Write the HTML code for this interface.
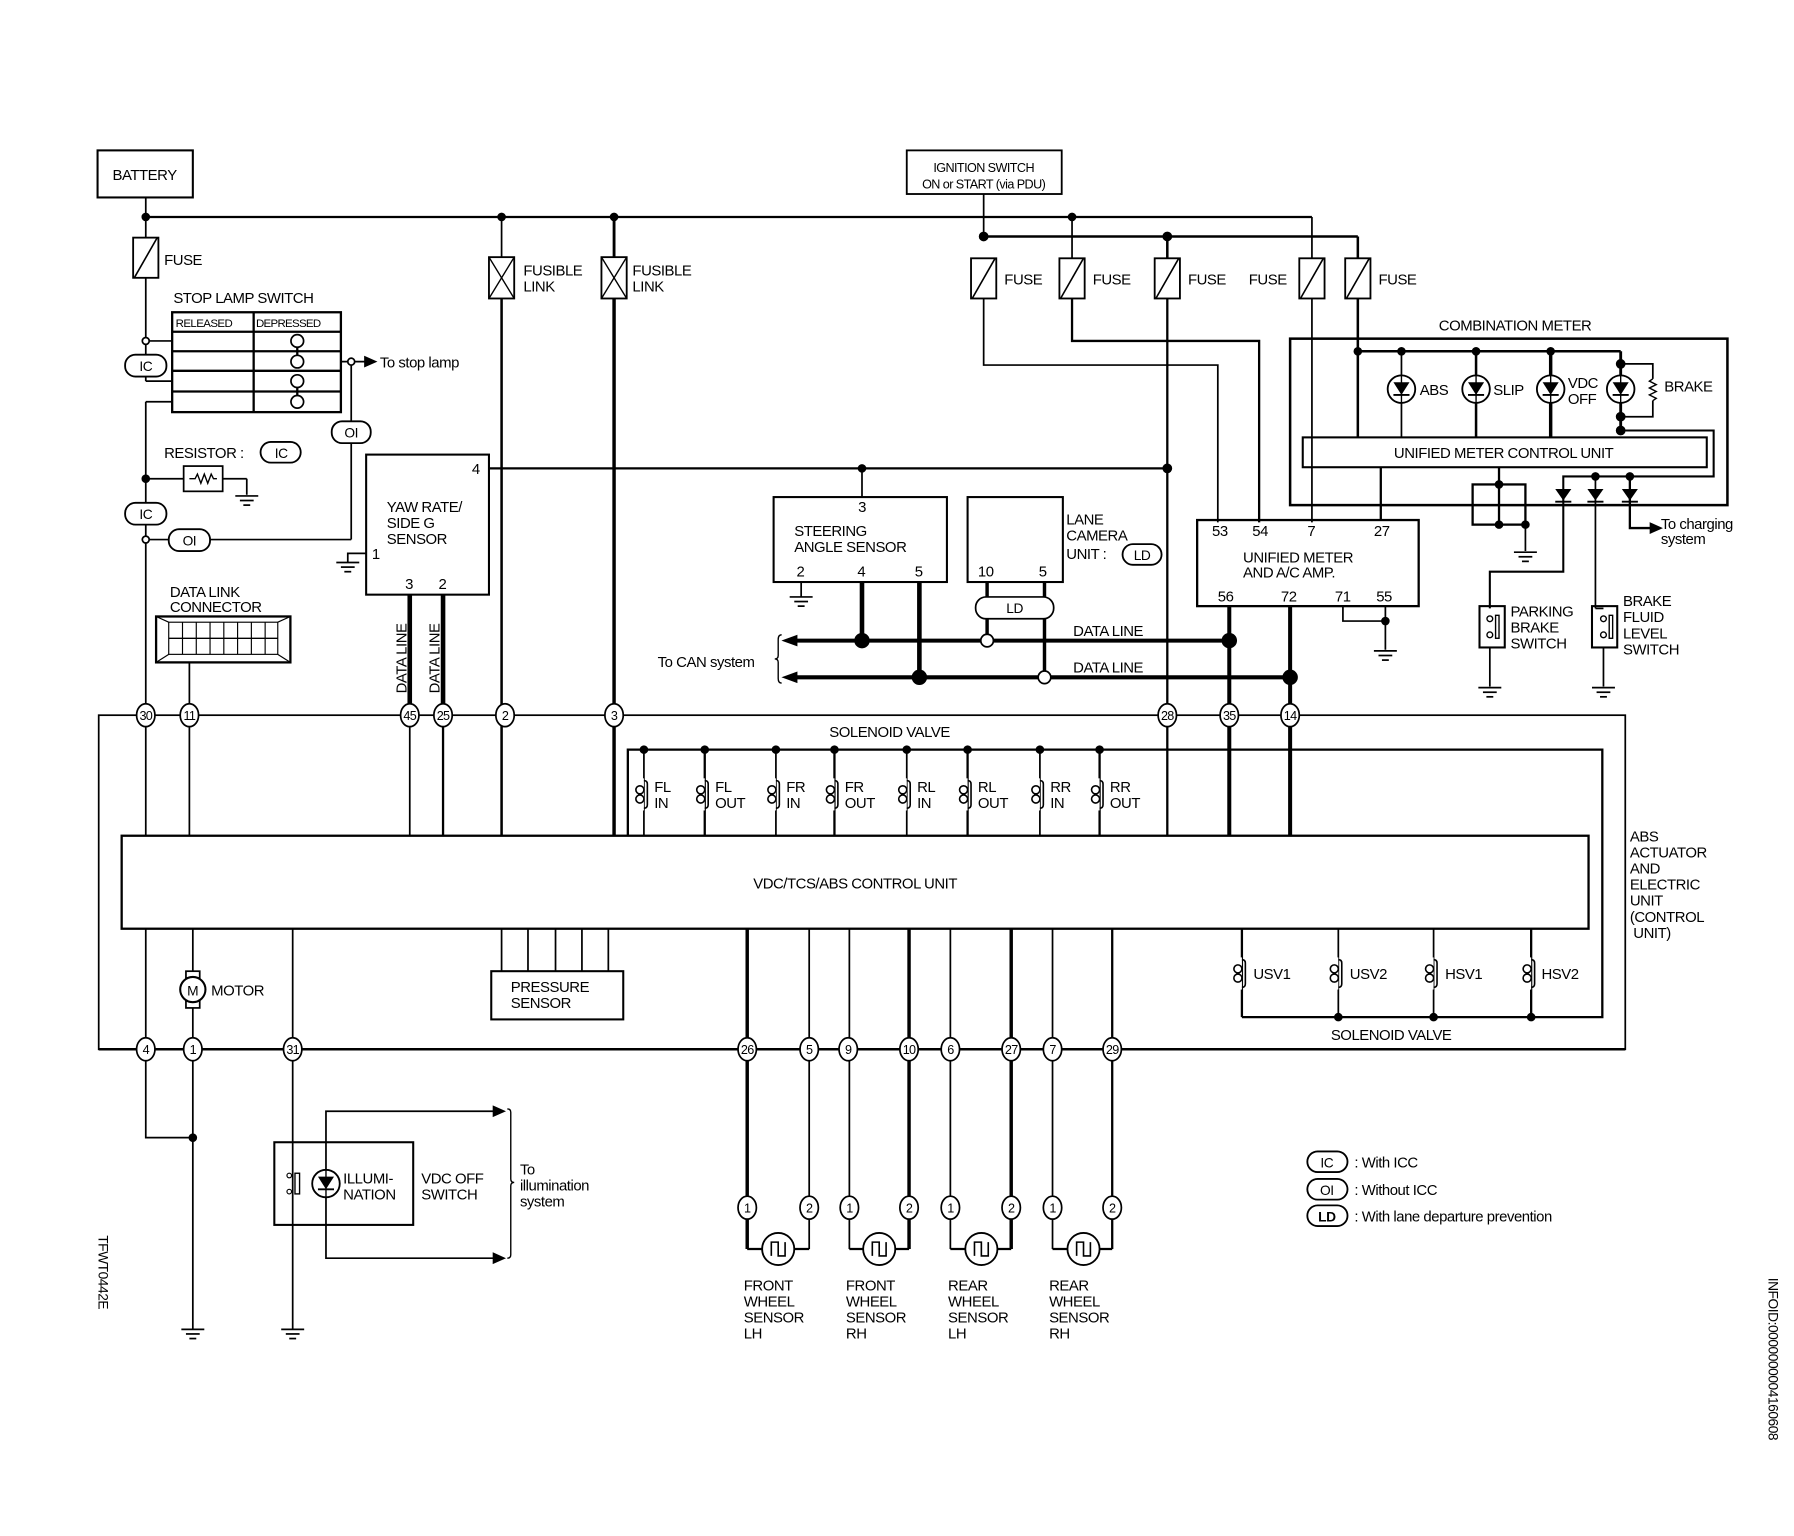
<!DOCTYPE html>
<html><head><meta charset="utf-8"><style>
html,body{margin:0;padding:0;background:#fff;}
svg{display:block;}
text{font-family:"Liberation Sans",Arial,sans-serif;font-size:13px;fill:#000;letter-spacing:-0.4px;}
.c{font-size:11px;text-anchor:middle;letter-spacing:-0.6px;}
</style></head><body>
<svg width="1794" height="1536" viewBox="0 0 1563 1338" preserveAspectRatio="none" xmlns="http://www.w3.org/2000/svg">
<defs>
<g id="gnd"><line x1="-10" y1="0" x2="10" y2="0" stroke="#000" stroke-width="1.5"/><line x1="-6" y1="4" x2="6" y2="4" stroke="#000" stroke-width="1.5"/><line x1="-3" y1="8" x2="3" y2="8" stroke="#000" stroke-width="1.5"/></g>
<g id="fuse"><rect x="-11" y="0" width="22" height="35" fill="#fff" stroke="#000" stroke-width="1.6"/><line x1="-10" y1="35" x2="10" y2="0" stroke="#000" stroke-width="1.4"/></g>
<g id="flink"><rect x="-11" y="0" width="22" height="36" fill="#fff" stroke="#000" stroke-width="1.6"/><line x1="-11" y1="0" x2="11" y2="36" stroke="#000" stroke-width="1.2"/><line x1="11" y1="0" x2="-11" y2="36" stroke="#000" stroke-width="1.2"/></g>
<g id="coil"><rect x="-8" y="-14" width="8" height="28" fill="#fff" stroke="none"/><circle cx="-3.5" cy="-4" r="3.5" fill="none" stroke="#000" stroke-width="1.4"/><circle cx="-3.5" cy="4" r="3.5" fill="none" stroke="#000" stroke-width="1.4"/><path d="M0,-12 q3,0 3,3 v18 q0,3 -3,3" fill="none" stroke="#000" stroke-width="1.4"/></g>
<g id="lamp"><circle r="12" fill="#fff" stroke="#000" stroke-width="1.6"/><path d="M-7,-6 L7,-6 L0,5 Z" fill="#000"/><line x1="-7" y1="5" x2="7" y2="5" stroke="#000" stroke-width="1.6"/><line x1="0" y1="-12" x2="0" y2="12" stroke="#000" stroke-width="1.2"/></g>
<g id="diode"><path d="M-7,-5 L7,-5 L0,5 Z" fill="#000"/><line x1="-7" y1="6" x2="7" y2="6" stroke="#000" stroke-width="1.6"/></g>
<g id="ws"><circle r="14" fill="#fff" stroke="#000" stroke-width="1.6"/><path d="M-6,6 V-6 H0 V6 H6 V-6" fill="none" stroke="#000" stroke-width="1.4"/></g>
</defs>

<g stroke="#000" fill="none" stroke-width="1.5">
<rect x="85" y="131" width="83" height="41" stroke-width="1.8"/>
<line x1="127" y1="172" x2="127" y2="207"/>
<line x1="127" y1="189" x2="1143" y2="189" stroke-width="2"/>
<line x1="857" y1="169" x2="857" y2="206"/>
<line x1="857" y1="206" x2="1183" y2="206" stroke-width="2.2"/>
<line x1="1143" y1="189" x2="1143" y2="225"/>
<line x1="1183" y1="206" x2="1183" y2="225" stroke-width="2.2"/>
<line x1="934" y1="189" x2="934" y2="225"/>
<line x1="1017" y1="206" x2="1017" y2="225" stroke-width="2.2"/>
<line x1="437" y1="189" x2="437" y2="224"/>
<line x1="535" y1="189" x2="535" y2="224" stroke-width="2.5"/>
<line x1="127" y1="241" x2="127" y2="297"/>
<line x1="127" y1="297" x2="150" y2="297"/>
<line x1="127" y1="297" x2="127" y2="332"/>
<line x1="127" y1="332" x2="150" y2="332"/>
<line x1="150" y1="350" x2="127" y2="350"/>
<line x1="127" y1="350" x2="127" y2="728"/>
<rect x="150" y="272" width="147" height="87" stroke-width="2"/>
<line x1="150" y1="289" x2="297" y2="289" stroke-width="2"/>
<line x1="150" y1="306" x2="297" y2="306" stroke-width="2"/>
<line x1="150" y1="323" x2="297" y2="323" stroke-width="2"/>
<line x1="150" y1="341" x2="297" y2="341" stroke-width="2"/>
<line x1="221" y1="272" x2="221" y2="359" stroke-width="2"/>
<line x1="259" y1="302" x2="259" y2="310" stroke-width="2"/>
<line x1="259" y1="337" x2="259" y2="345" stroke-width="2"/>
<circle cx="259" cy="297" r="5.5" fill="#fff"/><circle cx="259" cy="315" r="5.5" fill="#fff"/><circle cx="259" cy="332" r="5.5" fill="#fff"/><circle cx="259" cy="350" r="5.5" fill="#fff"/>
<line x1="297" y1="315" x2="320" y2="315"/>
<path d="M318,311 L327,315 L318,319 Z" fill="#000"/>
<line x1="306" y1="315" x2="306" y2="470"/>
<line x1="306" y1="470" x2="127" y2="470"/>
<circle cx="306" cy="315" r="3" fill="#fff"/>
<line x1="127" y1="417" x2="160" y2="417"/>
<rect x="160" y="406" width="34" height="22"/>
<path d="M165,417 h5 l2,-4 l3,8 l3,-8 l3,8 l3,-8 l2,4 h3" stroke-width="1.2"/>
<line x1="194" y1="417" x2="215" y2="417"/><line x1="215" y1="417" x2="215" y2="431"/>
<circle cx="127" cy="417" r="3" fill="#000"/>
<circle cx="127" cy="297" r="3" fill="#fff"/>
<circle cx="127" cy="470" r="3" fill="#fff"/>
<circle cx="127" cy="189" r="3" fill="#000"/><circle cx="437" cy="189" r="3" fill="#000"/><circle cx="535" cy="189" r="3" fill="#000"/><circle cx="934" cy="189" r="3" fill="#000"/>
<circle cx="857" cy="206" r="3.5" fill="#000"/><circle cx="1017" cy="206" r="3.5" fill="#000"/>
<polyline points="857,260 857,318 1061,318 1061,455"/>
<polyline points="934,260 934,297 1097,297 1097,455" stroke-width="2"/>
<line x1="1017" y1="260" x2="1017" y2="728" stroke-width="2"/>
<line x1="1143" y1="260" x2="1143" y2="455"/>
<line x1="1183" y1="260" x2="1183" y2="381" stroke-width="2.2"/>
<rect x="319" y="396" width="107" height="122" stroke-width="1.8"/>
<line x1="426" y1="408" x2="1017" y2="408" stroke-width="2"/>
<circle cx="751" cy="408" r="3" fill="#000"/><circle cx="1017" cy="408" r="3.5" fill="#000"/>
<polyline points="319,482 303,482 303,490"/>
<line x1="751" y1="408" x2="751" y2="433"/>
<line x1="357" y1="518" x2="357" y2="614" stroke-width="4"/>
<line x1="386" y1="518" x2="386" y2="614" stroke-width="4"/>
<line x1="357" y1="632" x2="357" y2="728"/>
<line x1="386" y1="632" x2="386" y2="728" stroke-width="2"/>
<line x1="437" y1="260" x2="437" y2="728" stroke-width="2.2"/>
<line x1="535" y1="260" x2="535" y2="728" stroke-width="3"/>
<rect x="136" y="537" width="117" height="40" stroke-width="2"/>
<rect x="147" y="542" width="95" height="28" stroke-width="1"/>
<line x1="136" y1="537" x2="147" y2="542" stroke-width="1"/><line x1="253" y1="537" x2="242" y2="542" stroke-width="1"/>
<line x1="136" y1="577" x2="147" y2="570" stroke-width="1"/><line x1="253" y1="577" x2="242" y2="570" stroke-width="1"/>
<line x1="147" y1="556" x2="242" y2="556" stroke-width="1.2"/>
<path d="M159,542 v28 M171,542 v28 M183,542 v28 M195,542 v28 M207,542 v28 M219,542 v28 M231,542 v28" stroke-width="1"/>
<line x1="165" y1="577" x2="165" y2="728"/>
<rect x="674" y="433" width="151" height="74" stroke-width="1.8"/>
<line x1="698" y1="507" x2="698" y2="520"/>
<line x1="751" y1="507" x2="751" y2="558" stroke-width="4"/>
<line x1="801" y1="507" x2="801" y2="590" stroke-width="4"/>
<rect x="843" y="433" width="83" height="74" stroke-width="1.8"/>
<line x1="860" y1="507" x2="860" y2="553" stroke-width="3"/>
<line x1="910" y1="507" x2="910" y2="585" stroke-width="3"/>
<rect x="850" y="520" width="68" height="19" rx="9" fill="#fff"/>
<line x1="690" y1="558" x2="1071" y2="558" stroke-width="3.5"/>
<line x1="690" y1="590" x2="1124" y2="590" stroke-width="3.5"/>
<path d="M683,558 L694,554 L694,562 Z" fill="#000"/>
<path d="M683,590 L694,586 L694,594 Z" fill="#000"/>
<path d="M681,553 q-3,0 -3,4 v14 q0,3 -3,3 q3,0 3,3 v14 q0,4 3,4" stroke-width="1.2"/>
<circle cx="751" cy="558" r="6" fill="#000"/><circle cx="801" cy="590" r="6" fill="#000"/>
<circle cx="860" cy="558" r="5.5" fill="#fff"/><circle cx="910" cy="590" r="5.5" fill="#fff"/>
<circle cx="1071" cy="558" r="6" fill="#000"/><circle cx="1124" cy="590" r="6" fill="#000"/>
<rect x="1043" y="453" width="193" height="75" stroke-width="2"/>
<line x1="1071" y1="528" x2="1071" y2="728" stroke-width="3.5"/>
<line x1="1124" y1="528" x2="1124" y2="728" stroke-width="3.5"/>
<polyline points="1170,528 1170,541 1207,541"/>
<line x1="1207" y1="528" x2="1207" y2="566"/>
<circle cx="1207" cy="541" r="3" fill="#000"/>
<line x1="1203" y1="407" x2="1203" y2="453" stroke-width="2"/>
<rect x="1124" y="295" width="381" height="145" stroke-width="2.2"/>
<line x1="1183" y1="306" x2="1412" y2="306" stroke-width="2.2"/>
<line x1="1221" y1="306" x2="1221" y2="381"/>
<line x1="1286" y1="306" x2="1286" y2="381" stroke-width="2.2"/>
<line x1="1351" y1="306" x2="1351" y2="381" stroke-width="3"/>
<line x1="1412" y1="306" x2="1412" y2="375" stroke-width="2.5"/>
<polyline points="1412,317 1440,317 1440,330"/>
<path d="M1440,330 l-3,2 l6,3 l-6,3 l6,3 l-6,3 l6,3 l-3,2" stroke-width="1.2"/>
<polyline points="1440,349 1440,363 1412,363"/>
<polyline points="1412,375 1493,375 1493,415 1362,415 1362,498 1298,498 1298,530" stroke-width="1.8"/>
<rect x="1135" y="381" width="352" height="26" stroke-width="1.8"/>
<line x1="1306" y1="407" x2="1306" y2="457" stroke-width="2"/>
<rect x="1283" y="422" width="46" height="35" stroke-width="2"/>
<line x1="1329" y1="457" x2="1329" y2="480"/>
<line x1="1390" y1="415" x2="1390" y2="530"/>
<polyline points="1420,415 1420,460 1440,460" stroke-width="2"/>
<path d="M1438,456 L1447,460 L1438,464 Z" fill="#000"/>
<circle cx="1183" cy="306" r="3" fill="#000"/><circle cx="1221" cy="306" r="3" fill="#000"/><circle cx="1286" cy="306" r="3" fill="#000"/><circle cx="1351" cy="306" r="3" fill="#000"/>
<circle cx="1412" cy="317" r="3.5" fill="#000"/><circle cx="1412" cy="363" r="3.5" fill="#000"/><circle cx="1412" cy="375" r="3.5" fill="#000"/>
<circle cx="1390" cy="415" r="3" fill="#000"/><circle cx="1420" cy="415" r="3" fill="#000"/>
<circle cx="1306" cy="422" r="3" fill="#000"/><circle cx="1306" cy="457" r="3" fill="#000"/><circle cx="1329" cy="457" r="3" fill="#000"/>
<rect x="1289" y="528" width="22" height="36" stroke-width="1.8"/>
<rect x="1387" y="528" width="22" height="36" stroke-width="1.8"/>
<line x1="1298" y1="564" x2="1298" y2="598"/>
<line x1="1397" y1="564" x2="1397" y2="598"/>
<line x1="1390" y1="530" x2="1397" y2="530"/>
<rect x="86" y="623" width="1330" height="291" stroke-width="1.5"/>
<line x1="86" y1="914" x2="1416" y2="914" stroke-width="2.2"/>
<polyline points="547,728 547,653 1396,653 1396,886 1082,886" stroke-width="2"/>
<line x1="561" y1="653" x2="561" y2="728"/><line x1="614" y1="653" x2="614" y2="728" stroke-width="2"/>
<line x1="676" y1="653" x2="676" y2="728"/><line x1="727" y1="653" x2="727" y2="728" stroke-width="2"/>
<line x1="790" y1="653" x2="790" y2="728"/><line x1="843" y1="653" x2="843" y2="728" stroke-width="2"/>
<line x1="906" y1="653" x2="906" y2="728"/><line x1="958" y1="653" x2="958" y2="728" stroke-width="2"/>
<circle cx="561" cy="653" r="3" fill="#000"/><circle cx="614" cy="653" r="3" fill="#000"/><circle cx="676" cy="653" r="3" fill="#000"/><circle cx="727" cy="653" r="3" fill="#000"/>
<circle cx="790" cy="653" r="3" fill="#000"/><circle cx="843" cy="653" r="3" fill="#000"/><circle cx="906" cy="653" r="3" fill="#000"/><circle cx="958" cy="653" r="3" fill="#000"/>
<rect x="106" y="728" width="1278" height="81" stroke-width="2"/>
<polyline points="127,809 127,991 168,991"/>
<line x1="168" y1="809" x2="168" y2="1158"/>
<line x1="255" y1="809" x2="255" y2="1158"/>
<circle cx="168" cy="991" r="3" fill="#000"/>
<rect x="162" y="846" width="12" height="6" fill="#fff"/><rect x="162" y="872" width="12" height="6" fill="#fff"/>
<circle cx="168" cy="862" r="11" fill="#fff" stroke-width="1.8"/>
<rect x="428" y="846" width="115" height="42" stroke-width="1.8"/>
<path d="M437,809 v37 M460,809 v37 M484,809 v37 M507,809 v37 M530,809 v37"/>
<line x1="651" y1="809" x2="651" y2="1088" stroke-width="3"/>
<line x1="705" y1="809" x2="705" y2="1088"/>
<line x1="740" y1="809" x2="740" y2="1088"/>
<line x1="792" y1="809" x2="792" y2="1088" stroke-width="3"/>
<line x1="828" y1="809" x2="828" y2="1088"/>
<line x1="881" y1="809" x2="881" y2="1088" stroke-width="3"/>
<line x1="917" y1="809" x2="917" y2="1088"/>
<line x1="969" y1="809" x2="969" y2="1088" stroke-width="2"/>
<path d="M651,1088 h13 M705,1088 h-13 M740,1088 h13 M792,1088 h-13 M828,1088 h13 M881,1088 h-13 M917,1088 h13 M969,1088 h-13" stroke-width="2"/>
<line x1="1082" y1="809" x2="1082" y2="886" stroke-width="2"/>
<line x1="1166" y1="809" x2="1166" y2="886"/>
<line x1="1249" y1="809" x2="1249" y2="886"/>
<line x1="1334" y1="809" x2="1334" y2="886" stroke-width="2"/>
<circle cx="1166" cy="886" r="3" fill="#000"/><circle cx="1249" cy="886" r="3" fill="#000"/><circle cx="1334" cy="886" r="3" fill="#000"/>
<rect x="239" y="995" width="121" height="72" stroke-width="1.8"/>
<polyline points="430,968 284,968 284,1096 430,1096"/>
<path d="M430,964 L439,968 L430,972 Z M430,1092 L439,1096 L430,1100 Z" fill="#000"/>
<path d="M442,966 q3,0 3,3 v58 q0,3 3,3 q-3,0 -3,3 v60 q0,3 -3,3" stroke-width="1.2"/>
<rect x="257" y="1022" width="4" height="18" stroke-width="1.2"/>
<circle cx="252" cy="1024" r="2" stroke-width="1"/><circle cx="252" cy="1038" r="2" stroke-width="1"/>
</g>

<use href="#fuse" x="127" y="207"/>
<use href="#flink" x="437" y="224"/><use href="#flink" x="535" y="224"/>
<use href="#fuse" x="857" y="225"/><use href="#fuse" x="934" y="225"/><use href="#fuse" x="1017" y="225"/><use href="#fuse" x="1143" y="225"/><use href="#fuse" x="1183" y="225"/>
<use href="#gnd" x="215" y="432"/><use href="#gnd" x="303" y="490"/><use href="#gnd" x="698" y="520"/><use href="#gnd" x="1207" y="567"/>
<use href="#gnd" x="1329" y="481"/><use href="#gnd" x="1298" y="599"/><use href="#gnd" x="1397" y="599"/>
<use href="#gnd" x="168" y="1158"/><use href="#gnd" x="255" y="1158"/>
<use href="#lamp" x="1221" y="339"/><use href="#lamp" x="1286" y="339"/><use href="#lamp" x="1351" y="339"/><use href="#lamp" x="1412" y="339"/>
<use href="#diode" x="1362" y="431"/><use href="#diode" x="1390" y="431"/><use href="#diode" x="1420" y="431"/>
<use href="#lamp" x="284" y="1031"/>
<use href="#coil" x="561" y="692"/><use href="#coil" x="614" y="692"/><use href="#coil" x="676" y="692"/><use href="#coil" x="727" y="692"/>
<use href="#coil" x="790" y="692"/><use href="#coil" x="843" y="692"/><use href="#coil" x="906" y="692"/><use href="#coil" x="958" y="692"/>
<use href="#coil" x="1082" y="848"/><use href="#coil" x="1166" y="848"/><use href="#coil" x="1249" y="848"/><use href="#coil" x="1334" y="848"/>
<use href="#ws" x="678" y="1088"/><use href="#ws" x="766" y="1088"/><use href="#ws" x="855" y="1088"/><use href="#ws" x="944" y="1088"/>
<g stroke="#000" stroke-width="1.2"><circle cx="1298" cy="539" r="2.5" fill="#fff"/><circle cx="1298" cy="553" r="2.5" fill="#fff"/><rect x="1303" y="536" width="3" height="20" fill="none"/>
<circle cx="1397" cy="539" r="2.5" fill="#fff"/><circle cx="1397" cy="553" r="2.5" fill="#fff"/><rect x="1402" y="536" width="3" height="20" fill="none"/></g>

<g stroke="#000" stroke-width="1.6" fill="#fff">
<rect x="109" y="309" width="36" height="19" rx="9"/>
<rect x="289" y="367" width="34" height="19" rx="9"/>
<rect x="227" y="385" width="35" height="18" rx="9"/>
<rect x="109" y="438" width="36" height="19" rx="9"/>
<rect x="147" y="461" width="36" height="19" rx="9"/>
<rect x="978" y="474" width="34" height="18" rx="9"/>
<rect x="1139" y="1003" width="35" height="18" rx="9"/>
<rect x="1139" y="1027" width="35" height="18" rx="9"/>
<rect x="1139" y="1050" width="35" height="18" rx="9"/>
</g>
<g>
<text x="127" y="323" style="text-anchor:middle;font-size:12px">IC</text>
<text x="306" y="381" style="text-anchor:middle;font-size:12px">OI</text>
<text x="245" y="399" style="text-anchor:middle;font-size:12px">IC</text>
<text x="127" y="452" style="text-anchor:middle;font-size:12px">IC</text>
<text x="165" y="475" style="text-anchor:middle;font-size:12px">OI</text>
<text x="995" y="488" style="text-anchor:middle;font-size:12px">LD</text>
<text x="884" y="534" style="text-anchor:middle;font-size:12px">LD</text>
<text x="1156" y="1017" style="text-anchor:middle;font-size:12px">IC</text>
<text x="1156" y="1041" style="text-anchor:middle;font-size:12px">OI</text>
<text x="1156" y="1064" style="text-anchor:middle;font-size:12px;font-weight:bold">LD</text>
</g>

<g stroke="#000" stroke-width="1.5" fill="#fff">
<ellipse cx="127" cy="623" rx="8" ry="10"/><ellipse cx="165" cy="623" rx="8" ry="10"/><ellipse cx="357" cy="623" rx="8" ry="10"/><ellipse cx="386" cy="623" rx="8" ry="10"/>
<ellipse cx="440" cy="623" rx="8" ry="10"/><ellipse cx="535" cy="623" rx="8" ry="10"/><ellipse cx="1017" cy="623" rx="8" ry="10"/><ellipse cx="1071" cy="623" rx="8" ry="10"/><ellipse cx="1124" cy="623" rx="8" ry="10"/>
<ellipse cx="127" cy="914" rx="8" ry="10"/><ellipse cx="168" cy="914" rx="8" ry="10"/><ellipse cx="255" cy="914" rx="8" ry="10"/>
<ellipse cx="651" cy="914" rx="8" ry="10"/><ellipse cx="705" cy="914" rx="8" ry="10"/><ellipse cx="739" cy="914" rx="8" ry="10"/><ellipse cx="792" cy="914" rx="8" ry="10"/>
<ellipse cx="828" cy="914" rx="8" ry="10"/><ellipse cx="881" cy="914" rx="8" ry="10"/><ellipse cx="917" cy="914" rx="8" ry="10"/><ellipse cx="969" cy="914" rx="8" ry="10"/>
<ellipse cx="651" cy="1052" rx="8" ry="10"/><ellipse cx="705" cy="1052" rx="8" ry="10"/><ellipse cx="740" cy="1052" rx="8" ry="10"/><ellipse cx="792" cy="1052" rx="8" ry="10"/>
<ellipse cx="828" cy="1052" rx="8" ry="10"/><ellipse cx="881" cy="1052" rx="8" ry="10"/><ellipse cx="917" cy="1052" rx="8" ry="10"/><ellipse cx="969" cy="1052" rx="8" ry="10"/>
</g>
<g>
<text class="c" x="127" y="627">30</text><text class="c" x="165" y="627">11</text><text class="c" x="357" y="627">45</text><text class="c" x="386" y="627">25</text>
<text class="c" x="440" y="627">2</text><text class="c" x="535" y="627">3</text><text class="c" x="1017" y="627">28</text><text class="c" x="1071" y="627">35</text><text class="c" x="1124" y="627">14</text>
<text class="c" x="127" y="918">4</text><text class="c" x="168" y="918">1</text><text class="c" x="255" y="918">31</text>
<text class="c" x="651" y="918">26</text><text class="c" x="705" y="918">5</text><text class="c" x="739" y="918">9</text><text class="c" x="792" y="918">10</text>
<text class="c" x="828" y="918">6</text><text class="c" x="881" y="918">27</text><text class="c" x="917" y="918">7</text><text class="c" x="969" y="918">29</text>
<text class="c" x="651" y="1056">1</text><text class="c" x="705" y="1056">2</text><text class="c" x="740" y="1056">1</text><text class="c" x="792" y="1056">2</text>
<text class="c" x="828" y="1056">1</text><text class="c" x="881" y="1056">2</text><text class="c" x="917" y="1056">1</text><text class="c" x="969" y="1056">2</text>
</g>

<text x="126" y="157" style="text-anchor:middle">BATTERY</text>
<text x="143" y="231">FUSE</text>
<text x="456" y="240">FUSIBLE</text><text x="456" y="254">LINK</text>
<text x="551" y="240">FUSIBLE</text><text x="551" y="254">LINK</text>
<text x="875" y="248">FUSE</text><text x="952" y="248">FUSE</text><text x="1035" y="248">FUSE</text><text x="1088" y="248">FUSE</text><text x="1201" y="248">FUSE</text>
<text x="857" y="150" style="text-anchor:middle;font-size:11px;letter-spacing:-0.5px">IGNITION SWITCH</text>
<text x="857" y="164" style="text-anchor:middle;font-size:11px;letter-spacing:-0.5px">ON or START (via PDU)</text>
<rect x="790" y="131" width="135" height="38" fill="none" stroke="#000" stroke-width="1.6"/>
<text x="151" y="264">STOP LAMP SWITCH</text>
<text x="153" y="285" style="font-size:10px;letter-spacing:-0.5px">RELEASED</text><text x="223" y="285" style="font-size:10px;letter-spacing:-0.6px">DEPRESSED</text>
<text x="331" y="320">To stop lamp</text>
<text x="143" y="399">RESISTOR :</text>
<text x="148" y="520">DATA LINK</text><text x="148" y="533">CONNECTOR</text>
<text x="418" y="413" style="text-anchor:end">4</text>
<text x="337" y="446">YAW RATE/</text><text x="337" y="460">SIDE G</text><text x="337" y="474">SENSOR</text>
<text x="324" y="487">1</text>
<text x="353" y="513">3</text><text x="382" y="513">2</text>
<text transform="translate(354,604) rotate(-90)">DATA LINE</text>
<text transform="translate(383,604) rotate(-90)">DATA LINE</text>
<text x="751" y="446" style="text-anchor:middle">3</text>
<text x="692" y="467">STEERING</text><text x="692" y="481">ANGLE SENSOR</text>
<text x="694" y="502">2</text><text x="747" y="502">4</text><text x="797" y="502">5</text>
<text x="929" y="457">LANE</text><text x="929" y="471">CAMERA</text><text x="929" y="487">UNIT :</text>
<text x="852" y="502">10</text><text x="905" y="502">5</text>
<text x="935" y="554">DATA LINE</text><text x="935" y="586">DATA LINE</text>
<text x="573" y="581">To CAN system</text>
<text x="1320" y="288" style="text-anchor:middle">COMBINATION METER</text>
<text x="1237" y="344">ABS</text><text x="1301" y="344">SLIP</text><text x="1366" y="338">VDC</text><text x="1366" y="352">OFF</text><text x="1450" y="341">BRAKE</text>
<text x="1310" y="399" style="text-anchor:middle">UNIFIED METER CONTROL UNIT</text>
<text x="1447" y="461">To charging</text><text x="1447" y="474">system</text>
<text x="1056" y="467">53</text><text x="1091" y="467">54</text><text x="1139" y="467">7</text><text x="1197" y="467">27</text>
<text x="1083" y="490">UNIFIED METER</text><text x="1083" y="503">AND A/C AMP.</text>
<text x="1061" y="524">56</text><text x="1116" y="524">72</text><text x="1163" y="524">71</text><text x="1199" y="524">55</text>
<text x="1316" y="537">PARKING</text><text x="1316" y="551">BRAKE</text><text x="1316" y="565">SWITCH</text>
<text x="1414" y="528">BRAKE</text><text x="1414" y="542">FLUID</text><text x="1414" y="556">LEVEL</text><text x="1414" y="570">SWITCH</text>
<text x="775" y="642" style="text-anchor:middle">SOLENOID VALVE</text>
<text x="570" y="690">FL</text><text x="570" y="704">IN</text>
<text x="623" y="690">FL</text><text x="623" y="704">OUT</text>
<text x="685" y="690">FR</text><text x="685" y="704">IN</text>
<text x="736" y="690">FR</text><text x="736" y="704">OUT</text>
<text x="799" y="690">RL</text><text x="799" y="704">IN</text>
<text x="852" y="690">RL</text><text x="852" y="704">OUT</text>
<text x="915" y="690">RR</text><text x="915" y="704">IN</text>
<text x="967" y="690">RR</text><text x="967" y="704">OUT</text>
<text x="745" y="774" style="text-anchor:middle">VDC/TCS/ABS CONTROL UNIT</text>
<text x="1420" y="733">ABS</text><text x="1420" y="747">ACTUATOR</text><text x="1420" y="761">AND</text><text x="1420" y="775">ELECTRIC</text><text x="1420" y="789">UNIT</text><text x="1420" y="803">(CONTROL</text><text x="1423" y="817">UNIT)</text>
<text x="1092" y="853">USV1</text><text x="1176" y="853">USV2</text><text x="1259" y="853">HSV1</text><text x="1343" y="853">HSV2</text>
<text x="1212" y="906" style="text-anchor:middle">SOLENOID VALVE</text>
<text x="163" y="867" style="font-size:12px">M</text>
<text x="184" y="867">MOTOR</text>
<text x="445" y="864">PRESSURE</text><text x="445" y="878">SENSOR</text>
<text x="299" y="1031">ILLUMI-</text><text x="299" y="1045">NATION</text>
<text x="367" y="1031">VDC OFF</text><text x="367" y="1045">SWITCH</text>
<text x="453" y="1023">To</text><text x="453" y="1037">illumination</text><text x="453" y="1051">system</text>
<text x="648" y="1124">FRONT</text><text x="648" y="1138">WHEEL</text><text x="648" y="1152">SENSOR</text><text x="648" y="1166">LH</text>
<text x="737" y="1124">FRONT</text><text x="737" y="1138">WHEEL</text><text x="737" y="1152">SENSOR</text><text x="737" y="1166">RH</text>
<text x="826" y="1124">REAR</text><text x="826" y="1138">WHEEL</text><text x="826" y="1152">SENSOR</text><text x="826" y="1166">LH</text>
<text x="914" y="1124">REAR</text><text x="914" y="1138">WHEEL</text><text x="914" y="1152">SENSOR</text><text x="914" y="1166">RH</text>
<text x="1180" y="1017">: With ICC</text>
<text x="1180" y="1041">: Without ICC</text>
<text x="1180" y="1064">: With lane departure prevention</text>
<text transform="translate(86,1076) rotate(90)" style="font-size:12px">TFWT0442E</text>
<text transform="translate(1541,1113) rotate(90)" style="font-size:12px">INFOID:0000000004160608</text>
</svg>
</body></html>
